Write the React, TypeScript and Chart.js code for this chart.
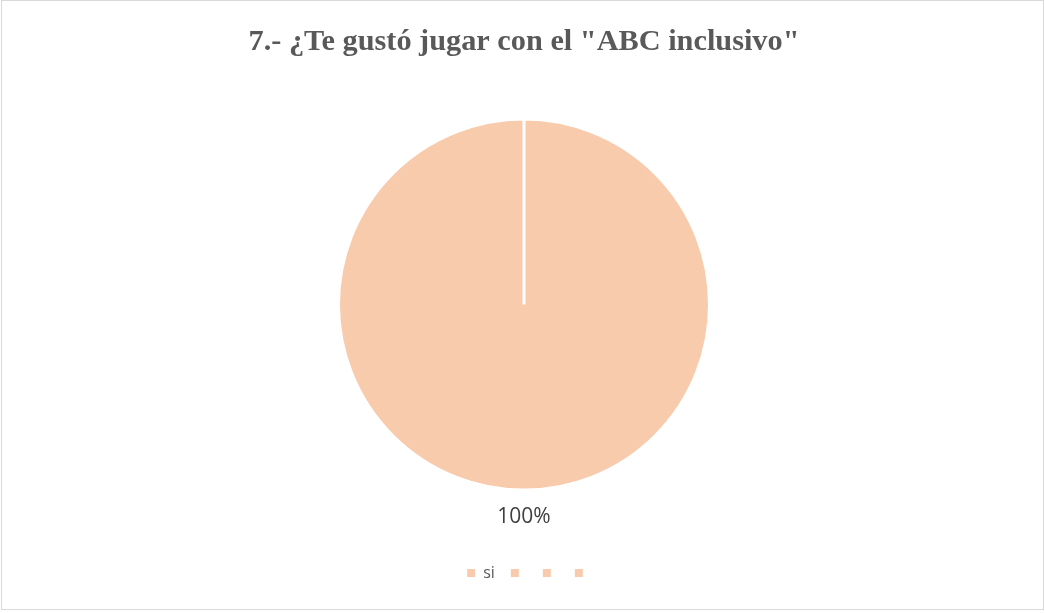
import React, { useEffect, useRef } from "react";
import { Chart, registerables } from "chart.js";

Chart.register(...registerables);

const TITLE = '7.- ¿Te gustó jugar con el "ABC inclusivo"';
const categories = ["si", "", "", ""];
const values = [100, 0, 0, 0];
const sliceColors = ["#F8CBAD", "#F8CBAD", "#F8CBAD", "#F8CBAD"];

const pieLabelPlugin = {
  id: "pieLabels",
  afterLayout(chart: any) {
    if (chart.legend) {
      chart.legend.left += 5;
      chart.legend.right += 5;
    }
  },
  afterDatasetsDraw(chart: any) {
    const ctx = chart.ctx;
    const meta = chart.getDatasetMeta(0);
    const data = chart.data.datasets[0].data as number[];
    const total = data.reduce((a: number, b: number) => a + b, 0);
    ctx.save();
    ctx.font = '21px "Open Sans"';
    ctx.fillStyle = "#404040";
    ctx.textAlign = "center";
    ctx.textBaseline = "middle";
    meta.data.forEach((arc: any, i: number) => {
      const v = data[i];
      if (!v) return;
      const { x, y, startAngle, endAngle, outerRadius } = arc.getProps(
        ["x", "y", "startAngle", "endAngle", "outerRadius"],
        true
      );
      const mid = (startAngle + endAngle) / 2;
      const r = outerRadius + 27;
      const pct = Math.round((v / total) * 100) + "%";
      ctx.fillText(pct, x + Math.cos(mid) * r, y + Math.sin(mid) * r);
    });
    ctx.restore();
  },
};

export default function App() {
  const ref = useRef<HTMLCanvasElement>(null);
  useEffect(() => {
    if (!ref.current) return;
    const defaultGen = (Chart as any).overrides.pie.plugins.legend.labels.generateLabels;
    const chart = new Chart(ref.current, {
      type: "pie",
      data: {
        labels: categories,
        datasets: [
          {
            data: values,
            backgroundColor: sliceColors,
            borderColor: "#FFFFFF",
            borderWidth: 3,
          },
        ],
      },
      options: {
        responsive: false,
        animation: false,
        devicePixelRatio: 1,
        radius: 185.5,
        layout: { padding: { left: 3, right: 0, top: 0, bottom: 22 } },
        plugins: {
          title: {
            display: true,
            text: TITLE,
            color: "#595959",
            font: { family: '"Liberation Serif", "Times New Roman", serif', size: 30.3, weight: "bold", lineHeight: 1.2 },
            padding: { top: 23.8, bottom: 0 },
          },
          legend: {
            display: true,
            position: "bottom",
            labels: {
              boxWidth: 8,
              boxHeight: 8,
              padding: 16,
              color: "#595959",
              font: { family: '"Open Sans", sans-serif', size: 16 },
              generateLabels: (c: any) =>
                defaultGen(c).map((it: any) => ({ ...it, lineWidth: 0, strokeStyle: "rgba(0,0,0,0)" })),
            },
          },
          tooltip: { enabled: false },
        },
      } as any,
      plugins: [pieLabelPlugin],
    });
    return () => chart.destroy();
  }, []);
  return (
    <div style={{ position: "fixed", left: 0, top: 0, width: 1045, height: 613, background: "#fff" }}>
      <div
        style={{
          position: "absolute",
          left: 1,
          top: 0,
          width: 1043,
          height: 610,
          boxSizing: "border-box",
          border: "1px solid #D9D9D9",
        }}
      />
      <canvas
        ref={ref}
        width={1045}
        height={613}
        style={{ position: "absolute", left: 0, top: 0, width: 1045, height: 613 }}
      />
    </div>
  );
}
